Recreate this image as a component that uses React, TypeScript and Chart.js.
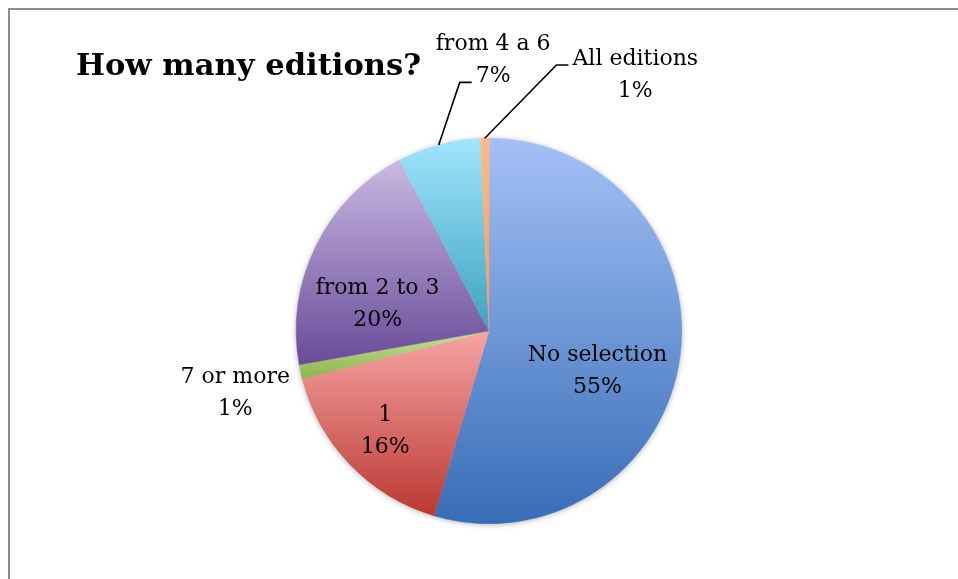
import React, { useEffect, useRef } from "react";
import { Chart, registerables } from "chart.js";

Chart.register(...registerables);

const TITLE = "How many editions?";
const CATEGORIES = ["No selection", "1", "7 or more", "from 2 to 3", "from 4 a 6", "All editions"];
const VALUES = [54.6, 16.4, 1.2, 20.1, 7.0, 0.7];
const TOP_COLORS = ["#a4c1f6", "#f6a5a3", "#c6e396", "#cab8e2", "#a0e5fc", "#fdba86"];
const BOTTOM_COLORS = ["#376db7", "#bb3832", "#8db14c", "#684b98", "#3da2c2", "#f49a59"];
// label placement: angle offset (deg) from slice mid-angle, distance as fraction of radius
const LABEL_ANGLE_OFFSET = [12, 0, -1.5, -12.7, 16, 31];
const LABEL_DIST = [0.6, 0.748, 1.355, 0.594, 1.404, 1.53];
// leader lines: -1 none, else index of text line to attach to
const LEADER_LINE = [-1, -1, -1, -1, 1, 0];

const FONT = "DejaVu Serif";

export default function App() {
  const ref = useRef<HTMLCanvasElement | null>(null);
  useEffect(() => {
    const canvas = ref.current!;
    const total = VALUES.reduce((a, b) => a + b, 0);

    const gradientPlugin = {
      id: "sliceGradient",
      beforeDatasetsDraw(chart: any) {
        const ctx = chart.ctx;
        const meta = chart.getDatasetMeta(0);
        meta.data.forEach((arc: any, i: number) => {
          const { x, y, startAngle, endAngle, outerRadius } = arc.getProps(
            ["x", "y", "startAngle", "endAngle", "outerRadius"],
            true
          );
          const ys = [y, y + outerRadius * Math.sin(startAngle), y + outerRadius * Math.sin(endAngle)];
          for (let k = -2; k <= 2; k++) {
            const top = -Math.PI / 2 + 2 * Math.PI * k;
            const bot = Math.PI / 2 + 2 * Math.PI * k;
            if (top >= startAngle && top <= endAngle) ys.push(y - outerRadius);
            if (bot >= startAngle && bot <= endAngle) ys.push(y + outerRadius);
          }
          const y0 = Math.min(...ys);
          const y1 = Math.max(...ys);
          const g = ctx.createLinearGradient(0, y0, 0, y1);
          g.addColorStop(0, TOP_COLORS[i]);
          g.addColorStop(1, BOTTOM_COLORS[i]);
          arc.options.backgroundColor = g;
          arc.options.borderColor = g;
        });
        ctx.save();
        const a0 = meta.data[0];
        ctx.shadowColor = "rgba(0,0,0,0.35)";
        ctx.shadowBlur = 6;
        ctx.shadowOffsetX = 0;
        ctx.shadowOffsetY = 1;
        ctx.fillStyle = "#ffffff";
        ctx.beginPath();
        ctx.arc(a0.x, a0.y, a0.outerRadius - 0.5, 0, Math.PI * 2);
        ctx.fill();
        ctx.restore();
      },
      afterDatasetsDraw(chart: any) {
        const ctx = chart.ctx;
        const meta = chart.getDatasetMeta(0);
        ctx.save();
        ctx.font = `22px "${FONT}"`;
        ctx.fillStyle = "#000";
        ctx.textAlign = "center";
        ctx.textBaseline = "middle";
        const lineH = 32;
        meta.data.forEach((arc: any, i: number) => {
          const { x, y, startAngle, endAngle, outerRadius } = arc;
          const mid = (startAngle + endAngle) / 2;
          const ang = mid + (LABEL_ANGLE_OFFSET[i] * Math.PI) / 180;
          const d = LABEL_DIST[i] * outerRadius;
          const cx = x + d * Math.cos(ang);
          const cy = y + d * Math.sin(ang);
          const pct = Math.round((VALUES[i] / total) * 100) + "%";
          const lines = [CATEGORIES[i], pct];
          lines.forEach((t, j) => {
            ctx.fillText(t, cx, cy + (j - 0.5) * lineH);
          });
          const li = LEADER_LINE[i];
          if (li >= 0) {
            const w = ctx.measureText(lines[li]).width;
            const ax = cx - w / 2 - 4;
            const ay = cy + (li - 0.5) * lineH + 6;
            const rx = x + outerRadius * Math.cos(mid);
            const ry = y + outerRadius * Math.sin(mid);
            ctx.strokeStyle = "#000";
            ctx.lineWidth = 1.6;
            ctx.beginPath();
            ctx.moveTo(rx, ry);
            ctx.lineTo(ax - 12, ay);
            ctx.lineTo(ax, ay);
            ctx.stroke();
          }
        });
        ctx.restore();
      },
    };

    const framePlugin = {
      id: "frame",
      beforeDraw(chart: any) {
        const ctx = chart.ctx;
        ctx.save();
        ctx.strokeStyle = "#8c8c8c";
        ctx.lineWidth = 2;
        ctx.beginPath();
        ctx.moveTo(9, chart.height);
        ctx.lineTo(9, 9);
        ctx.lineTo(chart.width, 9);
        ctx.stroke();
        ctx.fillStyle = "#000";
        ctx.font = `bold 30.6px "${FONT}"`;
        ctx.textAlign = "left";
        ctx.textBaseline = "alphabetic";
        ctx.fillText(TITLE, 76, 75);
        ctx.restore();
      },
    };

    const chart = new Chart(canvas, {
      type: "pie",
      data: {
        labels: CATEGORIES,
        datasets: [
          {
            data: VALUES,
            backgroundColor: TOP_COLORS,
            borderWidth: 0.5,
          },
        ],
      },
      options: {
        responsive: false,
        animation: false,
        layout: { padding: { top: 138, bottom: 55, left: 100, right: 80 } },
        plugins: {
          legend: { display: false },
          tooltip: { enabled: false },
          title: { display: false },
        },
      },
      plugins: [gradientPlugin, framePlugin],
    });
    return () => chart.destroy();
  }, []);

  return (
    <div style={{ position: "fixed", left: 0, top: 0, width: 958, height: 579, background: "#fff" }}>
      <canvas ref={ref} width={958} height={579} style={{ display: "block" }} />
    </div>
  );
}
